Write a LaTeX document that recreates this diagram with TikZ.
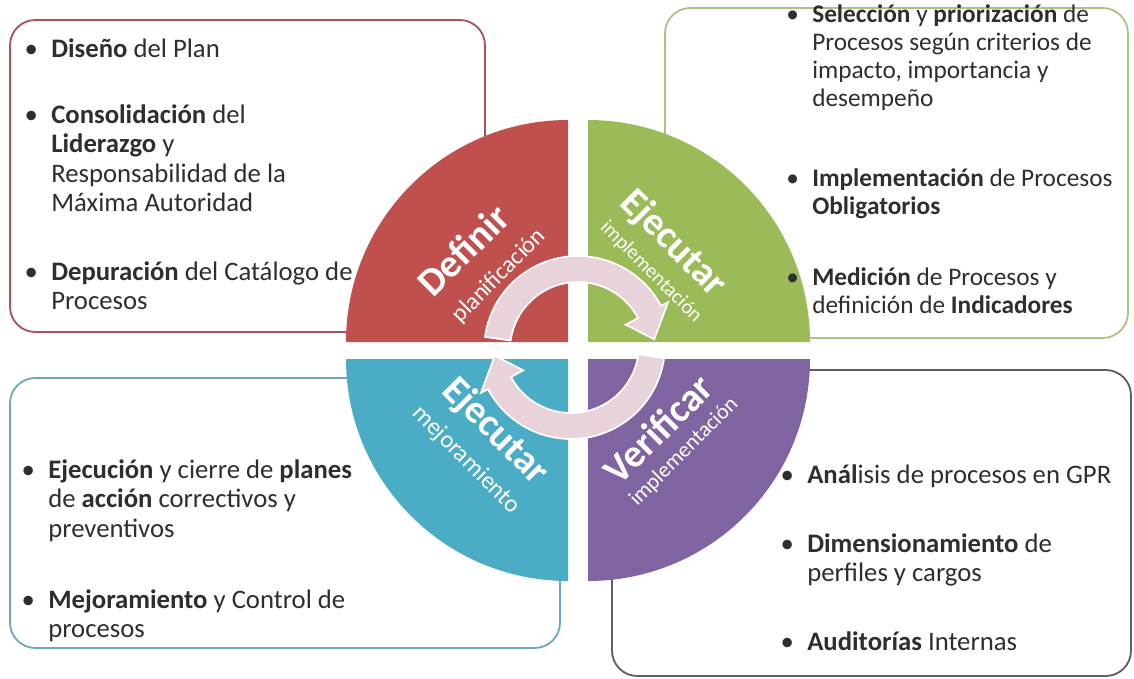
\documentclass[tikz,border=0pt]{standalone}
\usepackage{
	fontspec,			% Fonts
	xcolor				% Colours
}
\setmainfont{Carlito}

\definecolor{defred}{HTML}{C0504D}
\definecolor{exgreen}{HTML}{9BBB59}
\definecolor{exteal}{HTML}{4BACC6}
\definecolor{verpurple}{HTML}{8064A2}
\definecolor{redline}{HTML}{A6545A}
\definecolor{greenline}{HTML}{ADC285}
\definecolor{tealline}{HTML}{6FA8B8}
\definecolor{purpleline}{HTML}{5E5C70}
\definecolor{arrowpink}{HTML}{E8D3DA}
\definecolor{txtgray}{HTML}{2E2E2E}

\newcommand{\boxfont}{\fontsize{19}{21}\selectfont}
\newcommand{\bul}{\llap{\textbullet\hspace{9.5pt}}}

\tikzset{
	item/.style={anchor=north west, inner sep=0pt, align=left, font=\boxfont, text=txtgray},
	title/.style={font=\fontsize{28}{28}\selectfont\bfseries, text=white, inner sep=0pt},
	sub/.style={font=\fontsize{#1}{#1}\selectfont, text=white, inner sep=0pt},
	frame/.style={line width=1.3pt, rounded corners=18pt},
	cyclearrow/.pic={
		\filldraw[fill=arrowpink, draw=white, line width=1.2pt] (-172:94)
			arc[start angle=-172, end angle=-28, radius=94] -- (-28:102) -- (-8:77) -- (-28:54) -- (-28:68)
			arc[start angle=-28, end angle=-172, radius=68] -- cycle;
	}
}

\begin{document}
\begin{tikzpicture}[x=0.025cm, y=-0.025cm]
	\useasboundingbox (0,0) rectangle (1134,679);
	% boxes
	\draw[frame, draw=redline] (10,20) rectangle (485,332);
	\draw[frame, draw=greenline] (665,8) rectangle (1128,338);
	\draw[frame, draw=tealline] (10,378) rectangle (560,648);
	\draw[frame, draw=purpleline] (612,370) rectangle (1131,676);

	% quarters of the wheel
	\fill[defred] (568,342) -- ++(-222,0) arc[start angle=-180, end angle=-90, radius=222] -- cycle;
	\fill[exgreen] (588,342) -- ++(0,-222) arc[start angle=-90, end angle=0, radius=222] -- cycle;
	\fill[exteal] (568,359) -- ++(-222,0) arc[start angle=180, end angle=90, radius=222] -- cycle;
	\fill[verpurple] (588,359) -- ++(0,222) arc[start angle=90, end angle=0, radius=222] -- cycle;

	\pic at (578,350) {cyclearrow};
	\pic[rotate=180] at (571,345) {cyclearrow};

	\node[title, rotate=45] (def) at (463,250) {Definir};
	\node[sub=17, rotate=45] (defsub) at (499,276) {planificación};
	\node[title, rotate=-45] (eje) at (673,244) {Ejecutar};
	\node[sub=14.5, rotate=-45] (ejesub) at (651,272) {implementación};
	\node[title, rotate=-45] (mej) at (495,432) {Ejecutar};
	\node[sub=17.5, rotate=-45] (mejsub) at (466,460) {mejoramiento};
	\node[title, rotate=45] (ver) at (658,429) {Verificar};
	\node[sub=15.5, rotate=45] (versub) at (684,452) {implementación};

	% text of the boxes
	\node[item] (tl1) at (51,38) {\bul\textbf{Diseño} del Plan};
	\node[item] (tl2) at (51,104) {\bul\textbf{Consolidación} del\\ \textbf{Liderazgo} y\\ Responsabilidad de la\\ Máxima Autoridad};
	\node[item] (tl3) at (51,261) {\bul\textbf{Depuración} del Catálogo de\\ Procesos};

	\node[item, font=\fontsize{18}{20}\selectfont] (tr1) at (812,4) {\bul\textbf{Selección} y \textbf{priorización} de\\ Procesos según criterios de\\ impacto, importancia y\\ desempeño};
	\node[item, font=\fontsize{18}{20}\selectfont] (tr2) at (812,168) {\bul\textbf{Implementación} de Procesos\\ \textbf{Obligatorios}};
	\node[item, font=\fontsize{18}{20}\selectfont] (tr3) at (812,267) {\bul\textbf{Medición} de Procesos y\\ definición de \textbf{Indicadores}};

	\node[item] (bl1) at (48,459) {\bul\textbf{Ejecución} y cierre de \textbf{planes}\\ de \textbf{acción} correctivos y\\ preventivos};
	\node[item] (bl2) at (48,589) {\bul\textbf{Mejoramiento} y Control de\\ procesos};

	\node[item] (br1) at (807,464) {\bul\textbf{Anál}isis de procesos en GPR};
	\node[item] (br2) at (807,533) {\bul\textbf{Dimensionamiento} de\\ perfiles y cargos};
	\node[item] (br3) at (807,631) {\bul\textbf{Auditorías} Internas};
\end{tikzpicture}
\end{document}
